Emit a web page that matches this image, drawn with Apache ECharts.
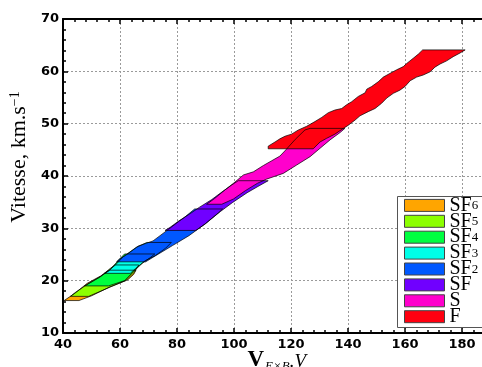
<!DOCTYPE html>
<html><head><meta charset="utf-8">
<script src="https://cdn.jsdelivr.net/npm/echarts@6/dist/echarts.min.js"></script>
<style>html,body{margin:0;padding:0;background:#fff}#c{width:482px;height:367px}</style>
</head><body><div id="c"></div>
<script>
// Species (legend order top -> bottom) and fill colours
const species = ['SF6', 'SF5', 'SF4', 'SF3', 'SF2', 'SF', 'S', 'F'];
const colors = ['#FFA500', '#8CFF00', '#00FF40', '#00FFE8', '#0058FF', '#7000FF', '#FF00CC', '#FF0010'];

// Axis ranges / ticks (the picture is cropped at the right, a little past 180)
const xRange = [40, 190];
const yRange = [10, 70];
const xStep = 20;
const yStep = 10;

// Region outlines: [V_ExB, Vitesse] vertices
const polySF6 = [[40.4,16.2],[45.6,16.2],[50.0,17.1],[56.8,18.9],[62.8,20.2],[64.8,21.2],[65.6,22.0],[56.3,22.0],[53.2,20.9],[48.5,19.5],[44.2,17.6]];
const polySF5 = [[42.6,17.0],[49.0,17.0],[56.2,18.7],[62.0,20.0],[65.0,21.6],[66.6,23.0],[58.2,23.0],[56.0,22.1],[53.0,20.7],[48.0,19.1],[44.2,17.7]];
const polySF4 = [[47.6,19.0],[56.0,19.0],[61.6,20.0],[64.8,21.8],[68.0,23.4],[70.6,24.4],[72.2,25.1],[61.6,25.1],[59.6,24.0],[56.4,22.0],[53.2,20.8],[49.4,19.6]];
const polySF3 = [[54.5,21.4],[63.6,21.4],[65.4,22.3],[68.8,23.8],[72.4,24.8],[76.0,26.2],[78.0,27.3],[69.4,27.3],[65.8,26.4],[61.2,24.6],[58.4,23.0],[56.2,22.0]];
const polySF2 = [[58.8,23.6],[69.0,23.6],[72.6,24.8],[78.4,26.7],[84.2,28.6],[90.0,30.9],[94.6,33.0],[96.0,33.7],[86.2,33.7],[82.4,32.0],[80.6,31.3],[77.0,29.8],[71.6,27.6],[66.4,26.6],[62.4,25.0],[60.0,24.2]];
const polySF = [[75.8,29.6],[86.6,29.6],[89.8,30.8],[95.2,33.2],[99.4,34.9],[104.6,36.8],[108.4,38.0],[112.0,39.1],[101.5,39.1],[99.0,38.2],[95.4,36.8],[92.2,35.5],[87.8,34.0],[84.6,32.8],[80.6,31.4],[77.6,30.2]];
const polyS = [[90.4,34.6],[95.7,34.6],[99.8,35.6],[104.0,37.2],[108.2,38.6],[111.4,39.4],[117.3,40.5],[122.0,42.1],[126.7,43.7],[130.2,45.3],[133.7,46.9],[137.2,48.3],[138.9,49.1],[126.7,49.1],[124.9,48.8],[121.5,47.0],[118.2,45.0],[116.1,43.8],[113.2,42.9],[110.3,42.0],[106.8,40.8],[103.3,40.2],[99.8,38.6],[96.5,37.2],[93.2,35.7]];
const polyF = [[112.0,45.2],[112.0,45.7],[114.4,46.5],[116.1,47.1],[117.9,47.6],[120.2,48.0],[122.6,48.8],[125.5,49.5],[128.4,50.4],[130.8,51.2],[133.1,52.1],[135.4,52.6],[137.8,52.9],[139.5,53.6],[141.3,54.2],[143.6,55.2],[146.0,55.9],[146.6,56.6],[148.3,57.1],[150.6,58.0],[152.4,58.9],[154.7,59.6],[157.1,60.3],[159.4,60.9],[160.6,61.5],[162.9,62.5],[164.7,63.3],[166.2,64.1],[181.1,64.1],[179.3,63.5],[176.9,62.8],[174.6,62.0],[172.3,61.4],[170.5,60.8],[168.8,59.9],[166.4,59.3],[164.1,58.9],[161.8,58.2],[160.0,57.1],[158.2,56.4],[155.9,55.8],[153.6,54.9],[151.8,53.9],[149.5,52.9],[147.1,52.3],[144.2,51.5],[142.5,50.7],[140.1,49.7],[138.4,49.1],[135.4,48.0],[132.5,47.2],[130.2,46.5],[127.8,45.2]];

const polys = [polySF6, polySF5, polySF4, polySF3, polySF2, polySF, polyS, polyF];

function polySeries(name, poly, fill, z) {
  return {
    type: 'custom', name: name, xAxisIndex: 0, yAxisIndex: 0, z: z,
    data: poly, encode: {x: 0, y: 1},
    renderItem: function (params, api) {
      if (params.dataIndex !== 0) return null;
      const pts = poly.map(p => api.coord(p));
      return {
        type: 'polygon', shape: {points: pts},
        style: fill ? {fill: fill, stroke: null} : {fill: 'none', stroke: '#000', lineWidth: 0.7}
      };
    }
  };
}

const series = [];
species.forEach((s, i) => series.push(polySeries(s, polys[i], colors[i], 2 + i * 0.01)));
species.forEach((s, i) => series.push(polySeries(s + ' edge', polys[i], null, 3)));

const serif = 'Liberation Serif';
const legendRich = {
  m: {fontFamily: serif, fontSize: 20, lineHeight: 14, color: '#000', verticalAlign: 'middle'},
  s: {fontFamily: serif, fontSize: 13, lineHeight: 4, color: '#000', verticalAlign: 'bottom'}
};

const chart = echarts.init(document.getElementById('c'), null, {renderer: 'canvas'});
chart.setOption({
  animation: false,
  backgroundColor: '#fff',
  grid: {left: 63, top: 19, bottom: 34, right: -8.5, containLabel: false, outerBoundsMode: 'none'},
  graphic: [{
    type: 'rect', left: 397, top: 196, z: 3.5,
    shape: {width: 100, height: 131},
    style: {fill: '#fff', stroke: '#555', lineWidth: 1}
  }],
  legend: {
    orient: 'vertical', left: 397, top: 195.4, z: 5,
    padding: [0, 0, 0, 7],
    itemWidth: 40, itemHeight: 12, itemGap: -4.1,
    icon: 'rect',
    data: species.map((s, i) => ({name: s, itemStyle: {color: colors[i], borderColor: '#444', borderWidth: 1}})),
    formatter: function (name) {
      const m = name.match(/^(\D+)(\d*)$/);
      return '{m|' + m[1] + '}' + (m[2] ? '{s|' + m[2] + '}' : '');
    },
    textStyle: {rich: legendRich, padding: 0}
  },
  xAxis: [{
    type: 'value', min: xRange[0], max: xRange[1], interval: xStep, position: 'bottom',
    name: '{v|V}{s|E×B}{d|.V}', nameLocation: 'middle', nameGap: 16, nameMoveOverlap: false,
    nameTextStyle: {verticalAlign: 'top', rich: {
      v: {fontFamily: serif, fontWeight: 'bold', fontSize: 23, lineHeight: 22, color: '#000', verticalAlign: 'top'},
      s: {fontFamily: serif, fontStyle: 'italic', fontSize: 13, lineHeight: 10, color: '#000', verticalAlign: 'top', padding: [11, 0, 0, 1]},
      d: {fontFamily: serif, fontStyle: 'italic', fontSize: 19, lineHeight: 22, color: '#000', verticalAlign: 'top', padding: [3, 0, 0, 0]}
    }},
    axisLine: {show: true, onZero: false, lineStyle: {color: '#000', width: 2}},
    axisTick: {show: true, inside: true, length: 5, lineStyle: {color: '#000', width: 1.5}},
    minorTick: {show: true, splitNumber: 5, length: 3, lineStyle: {color: '#000', width: 1.5}},
    axisLabel: {color: '#000', fontFamily: 'DejaVu Sans', fontWeight: 'bold', fontSize: 13, margin: 5, showMaxLabel: false},
    splitLine: {show: true, lineStyle: {color: '#9a9a9a', width: 1, type: [2, 2]}}
  }, {
    type: 'value', min: xRange[0], max: xRange[1], interval: xStep, position: 'top',
    axisLine: {show: true, onZero: false, lineStyle: {color: '#000', width: 2}},
    axisTick: {show: true, inside: true, length: 5, lineStyle: {color: '#000', width: 1.5}},
    minorTick: {show: true, splitNumber: 5, length: 3, lineStyle: {color: '#000', width: 1.5}},
    axisLabel: {show: false}, splitLine: {show: false}
  }],
  yAxis: [{
    type: 'value', min: yRange[0], max: yRange[1], interval: yStep,
    name: '{a|Vitesse, km.s}{b|−1}', nameLocation: 'middle', nameGap: 21,
    nameTextStyle: {padding: [0, 0, 0, 38], rich: {
      a: {fontFamily: serif, fontSize: 22, lineHeight: 22, color: '#000', verticalAlign: 'bottom'},
      b: {fontFamily: serif, fontSize: 14, lineHeight: 10, color: '#000', verticalAlign: 'top'}
    }},
    axisLine: {show: true, onZero: false, lineStyle: {color: '#000', width: 2}},
    axisTick: {show: true, inside: true, length: 5, lineStyle: {color: '#000', width: 1.5}},
    minorTick: {show: true, splitNumber: 5, length: 3, lineStyle: {color: '#000', width: 1.5}},
    axisLabel: {color: '#000', fontFamily: 'DejaVu Sans', fontWeight: 'bold', fontSize: 13, margin: 4},
    splitLine: {show: true, lineStyle: {color: '#9a9a9a', width: 1, type: [2, 2]}}
  }],
  series: series
});
</script></body></html>
